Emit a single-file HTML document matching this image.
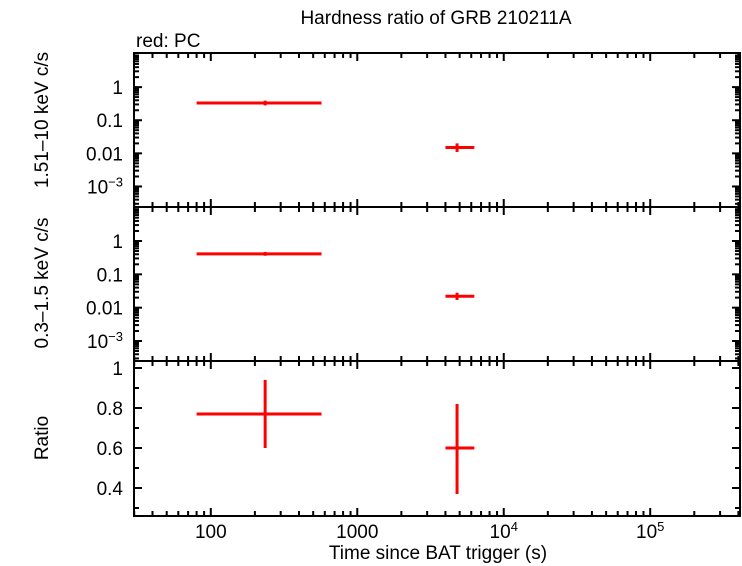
<!DOCTYPE html>
<html><head><meta charset="utf-8"><style>
html,body{margin:0;padding:0;background:#fff;width:742px;height:566px;overflow:hidden}
svg text{font-family:"Liberation Sans",sans-serif;fill:#000}
</style></head><body>
<svg id="c" width="742" height="566" xmlns="http://www.w3.org/2000/svg">
<text x="436" y="24" font-size="19" text-anchor="middle">Hardness ratio of GRB 210211A</text>
<text x="136" y="47" font-size="19">red: PC</text>
<text x="438" y="559" font-size="19" text-anchor="middle">Time since BAT trigger (s)</text>
<text transform="translate(48,120) rotate(-90)" font-size="19" text-anchor="middle">1.51–10 keV c/s</text>
<text transform="translate(48,283) rotate(-90)" font-size="19" text-anchor="middle">0.3–1.5 keV c/s</text>
<text transform="translate(48,438) rotate(-90)" font-size="19" text-anchor="middle">Ratio</text>
<g id="g"></g>
</svg>
<script>
// data
const xLo = [80, 4000];
const xMid = [235, 4800];
const xHi = [570, 6300];
const hardVal = [0.33, 0.015];
const hardLo = [0.28, 0.011];
const hardHi = [0.39, 0.02];
const softVal = [0.41, 0.022];
const softLo = [0.36, 0.017];
const softHi = [0.47, 0.028];
const ratioVal = [0.77, 0.6];
const ratioLo = [0.6, 0.37];
const ratioHi = [0.94, 0.82];
const xTickVals = [100, 1000, 10000, 100000];
const xTickLabels = ["100", "1000", "10^4", "10^5"];
const logYTickVals = [1, 0.1, 0.01, 0.001];
const logYTickLabels = ["1", "0.1", "0.01", "10^-3"];
const ratioTickVals = [0.4, 0.6, 0.8, 1];
const ratioTickLabels = ["0.4", "0.6", "0.8", "1"];

const NS = "http://www.w3.org/2000/svg";
const g = document.getElementById('g');
const L = 134, R = 740;
const xMin = Math.log10(29.9), xMax = 5.613;
const X = v => L + (Math.log10(v) - xMin) / (xMax - xMin) * (R - L);
const panels = [
  {top: 53, bot: 207, lo: -3.62, hi: 1.03, log: true},
  {top: 207, bot: 361, lo: -3.6, hi: 1.02, log: true},
  {top: 361, bot: 516, lo: 0.26, hi: 1.035, log: false}
];
function Y(p, v) { const t = p.log ? Math.log10(v) : v; return p.bot - (t - p.lo) / (p.hi - p.lo) * (p.bot - p.top); }
function line(x1, y1, x2, y2, col, w, name) {
  const e = document.createElementNS(NS, 'line');
  e.setAttribute('x1', x1); e.setAttribute('y1', y1); e.setAttribute('x2', x2); e.setAttribute('y2', y2);
  e.setAttribute('stroke', col); e.setAttribute('stroke-width', w);
  
  
  g.appendChild(e); return e;
}
function text(x, y, s, anchor, name) {
  const e = document.createElementNS(NS, 'text');
  e.setAttribute('x', x); e.setAttribute('y', y); e.setAttribute('font-size', '19'); e.setAttribute('text-anchor', anchor);
  
  
  const m = s.split('^');
  e.textContent = m[0];
  if (m[1]) { const t = document.createElementNS(NS, 'tspan'); t.setAttribute('dy', '-7'); t.setAttribute('font-size', '13'); t.textContent = m[1].replace('-', '−'); e.appendChild(t); }
  g.appendChild(e);
}
panels.forEach((p, pi) => {
  const r = document.createElementNS(NS, 'rect');
  r.setAttribute('x', L); r.setAttribute('y', p.top); r.setAttribute('width', R - L); r.setAttribute('height', p.bot - p.top);
  r.setAttribute('fill', 'none'); r.setAttribute('stroke', '#000'); r.setAttribute('stroke-width', 2);
  
  
  g.appendChild(r);
  for (let d = 1; d <= 6; d++) for (let k = 1; k <= 9; k++) {
    const v = k * Math.pow(10, d); const x = X(v);
    if (x <= L || x >= R) continue;
    const len = k === 1 ? 8 : 5;
    line(x, p.top, x, p.top + len, '#000', 2, 'x-tick');
    line(x, p.bot, x, p.bot - len, '#000', 2, 'x-tick');
  }
  if (p.log) {
    logYTickVals.forEach((v, i) => {
      const y = Y(p, v);
      line(L, y, L + 8, y, '#000', 2, 'y-tick'); line(R, y, R - 8, y, '#000', 2, 'y-tick');
      text(L - 11, y + 7, logYTickLabels[i], 'end', 'y-tick-label');
    });
    for (let d = -4; d <= 1; d++) for (let k = 2; k <= 9; k++) {
      const y = Y(p, k * Math.pow(10, d));
      if (y <= p.top || y >= p.bot) continue;
      line(L, y, L + 5, y, '#000', 2, 'y-minor-tick'); line(R, y, R - 5, y, '#000', 2, 'y-minor-tick');
    }
  } else {
    ratioTickVals.forEach((v, i) => {
      const y = Y(p, v);
      line(L, y, L + 8, y, '#000', 2, 'y-tick'); line(R, y, R - 8, y, '#000', 2, 'y-tick');
      text(L - 11, y + 7, ratioTickLabels[i], 'end', 'y-tick-label');
    });
    for (let v = 0.3; v < 1.04; v += 0.1) {
      const y = Y(p, v);
      line(L, y, L + 5, y, '#000', 2, 'y-minor-tick'); line(R, y, R - 5, y, '#000', 2, 'y-minor-tick');
    }
  }
  const sets = [[hardVal, hardLo, hardHi], [softVal, softLo, softHi], [ratioVal, ratioLo, ratioHi]][pi];
  const nm = ['hard', 'soft', 'ratio'][pi];
  xMid.forEach((xm, i) => {
    line(X(xLo[i]), Y(p, sets[0][i]), X(xHi[i]), Y(p, sets[0][i]), '#f00', 3, nm + '-xerr-' + i);
    line(X(xm), Y(p, sets[1][i]), X(xm), Y(p, sets[2][i]), '#f00', 3, nm + '-yerr-' + i);
  });
});
xTickVals.forEach((v, i) => text(X(v), 538, xTickLabels[i], 'middle', 'x-tick-label'));
</script>
</body></html>
